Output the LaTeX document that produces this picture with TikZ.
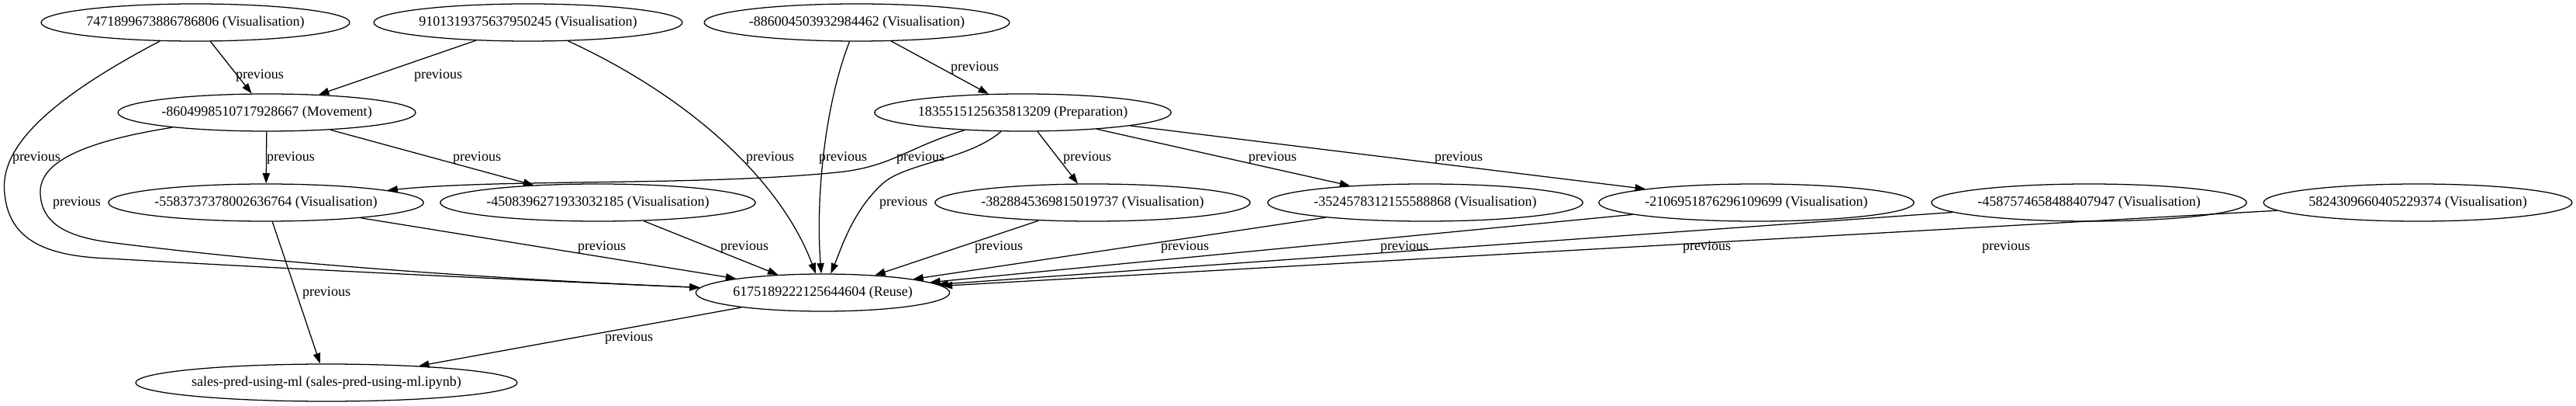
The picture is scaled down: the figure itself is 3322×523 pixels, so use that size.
\documentclass[tikz,border=0pt]{standalone}
\usepackage{fontspec}
\setmainfont{Liberation Serif}
\usetikzlibrary{shapes.geometric, arrows.meta}

\begin{document}
\begin{tikzpicture}[x=0.75pt, y=-0.75pt, line width=0.95pt,
	font=\fontsize{13.5pt}{16pt}\selectfont,
	task/.style={ellipse, draw, minimum height=36pt, inner xsep=0pt, inner ysep=0pt},
	lbl/.style={inner sep=0pt},
	>={Triangle[length=10pt, width=7pt]}]
	\useasboundingbox (0,0) rectangle (3322,523);

	\node[task] (v1) at (252,29) {7471899673886786806 (Visualisation)};
	\node[task] (v2) at (681,29) {9101319375637950245 (Visualisation)};
	\node[task] (v3) at (1105,29) {-886004503932984462 (Visualisation)};
		\node[task] (mov) at (344,145) {-8604998510717928667 (Movement)};
		\node[task] (prep) at (1319,145) {1835515125635813209 (Preparation)};
	\node[task] (v4) at (343,261) {-5583737378002636764 (Visualisation)};
	\node[task] (v5) at (771,261) {-4508396271933032185 (Visualisation)};
	\node[task] (v6) at (1409,261) {-3828845369815019737 (Visualisation)};
	\node[task] (v7) at (1838,261) {-3524578312155588868 (Visualisation)};
	\node[task] (v8) at (2265,261) {-2106951876296109699 (Visualisation)};
	\node[task] (v9) at (2694,261) {-4587574658488407947 (Visualisation)};
	\node[task] (v10) at (3118,261) {5824309660405229374 (Visualisation)};
		\node[task] (reuse) at (1061,377) {6175189222125644604 (Reuse)};
	\node[task] (nb) at (421,493) {sales-pred-using-ml (sales-pred-using-ml.ipynb)};

	\draw [->]
		(v1) edge (mov)
		(v2) edge (mov)
		(v3) edge (prep)
		(mov) edge (v4)
		(mov) edge (v5)
		(prep) edge (v6)
		(prep) edge (v7)
		(prep) edge (v8)
		(v4) edge (nb)
		(v4) edge (reuse)
		(v5) edge (reuse)
		(v6) edge (reuse)
		(v7) edge (reuse)
		(v8) edge (reuse)
		(v9) edge (reuse)
		(v10) edge (reuse)
		(reuse) edge (nb)
		;

	\draw [->] (v1) .. controls (40,140) and (0,200) .. (6,250) .. controls (12,310) and (60,330) .. (140,333) .. controls (400,348) and (700,362) .. (reuse);
	\draw [->] (mov) .. controls (90,185) and (50,215) .. (52,250) .. controls (54,290) and (90,305) .. (140,312) .. controls (400,345) and (700,362) .. (reuse);
	\draw [->] (v2) .. controls (900,130) and (1010,240) .. (reuse);
	\draw [->] (v3) .. controls (1062,140) and (1052,260) .. (reuse);
	\draw [->] (prep) .. controls (1170,190) and (1150,215) .. (1080,222) .. controls (900,240) and (650,230) .. (v4);
	\draw [->] (prep) .. controls (1250,205) and (1170,210) .. (1140,235) .. controls (1100,270) and (1085,320) .. (reuse);

	\node[lbl] (p1) at (335,97) {previous};
	\node[lbl] (p2) at (565,97) {previous};
	\node[lbl] (p3) at (1257,87) {previous};
	\node[lbl] (p4) at (47,203) {previous};
	\node[lbl] (p5) at (993,203) {previous};
	\node[lbl] (p6) at (1087,203) {previous};
	\node[lbl] (p7) at (375,203) {previous};
	\node[lbl] (p8) at (615,203) {previous};
	\node[lbl] (p9) at (1187,203) {previous};
	\node[lbl] (p10) at (1402,203) {previous};
	\node[lbl] (p11) at (1641,203) {previous};
	\node[lbl] (p12) at (1881,203) {previous};
	\node[lbl] (p13) at (99,261) {previous};
	\node[lbl] (p14) at (1165,261) {previous};
	\node[lbl] (p15) at (776,318) {previous};
	\node[lbl] (p16) at (960,318) {previous};
	\node[lbl] (p17) at (1288,318) {previous};
	\node[lbl] (p18) at (1528,318) {previous};
	\node[lbl] (p19) at (1811,318) {previous};
	\node[lbl] (p20) at (2201,318) {previous};
	\node[lbl] (p21) at (2587,318) {previous};
	\node[lbl] (p22) at (421,377) {previous};
	\node[lbl] (p23) at (811,435) {previous};
\end{tikzpicture}
\end{document}
